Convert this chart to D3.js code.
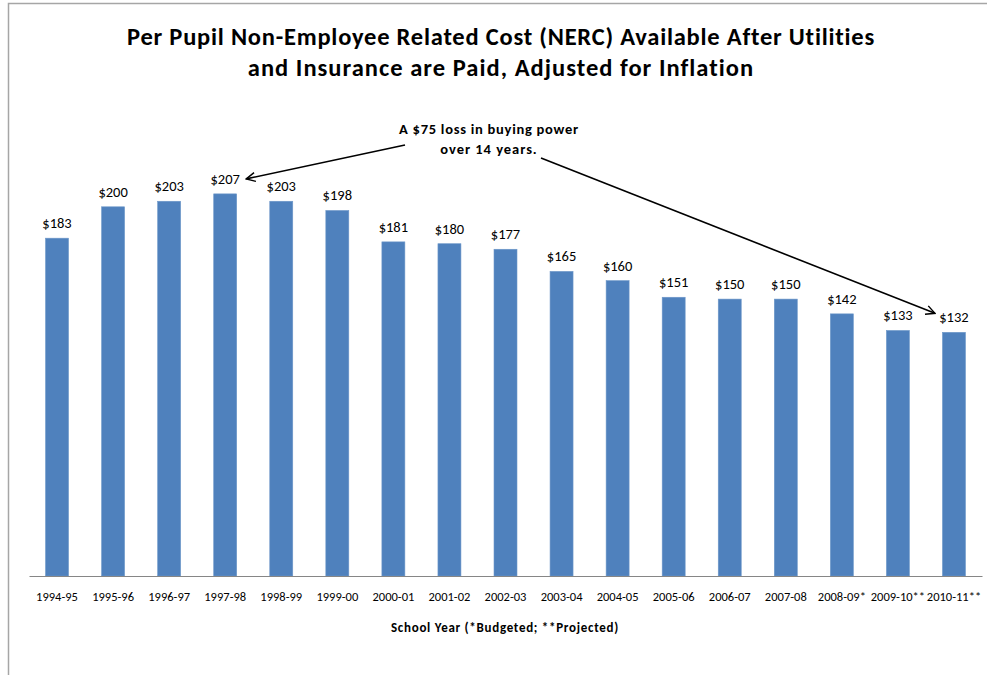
<!DOCTYPE html>
<html>
<head>
<meta charset="utf-8">
<script src="https://cdn.jsdelivr.net/npm/d3@7/dist/d3.min.js"></script>
<style>
  html, body { margin: 0; padding: 0; background: #fff; }
  svg { display: block; font-family: Carlito, Calibri, Lato, "Open Sans", sans-serif; }
</style>
</head>
<body>
<svg id="chart" width="987" height="675"></svg>
<script>
// School years on the category axis
const years = ["1994-95", "1995-96", "1996-97", "1997-98", "1998-99", "1999-00",
  "2000-01", "2001-02", "2002-03", "2003-04", "2004-05", "2005-06", "2006-07",
  "2007-08", "2008-09*", "2009-10**", "2010-11**"];
// Per pupil NERC after utilities and insurance, inflation adjusted (dollars)
const nerc = [183, 200, 203, 207, 203, 198, 181, 180, 177, 165, 160, 151, 150, 150, 142, 133, 132];

const titleLines = ["Per Pupil Non-Employee Related Cost (NERC) Available After Utilities",
  "and Insurance are Paid, Adjusted for Inflation"];
const noteLines = ["A $75 loss in buying power", "over 14 years."];
const xTitle = "School Year (*Budgeted; **Projected)";
const yDomain = [0, 250];

const svg = d3.select("#chart");
const W = 987, H = 675;

// spread glyphs so a text run takes roughly the given width per character
function spread(sel, emWidth) {
  sel.each(function () {
    const t = d3.select(this);
    const n = this.textContent.length;
    const fs = +t.attr("font-size");
    const w = this.getComputedTextLength();
    const target = emWidth * fs * n;
    if (n > 1) t.attr("letter-spacing", ((target - w) / (n - 1)).toFixed(2));
  });
}

// frame around the chart area
svg.append("path")
  .attr("d", `M8.5,${H} V3.5 H${W}`)
  .attr("fill", "none").attr("stroke", "#a6a6a6").attr("stroke-width", 1.5);

const plot = { left: 29, right: 982, bottom: 576 };

const x = d3.scaleBand().domain(years)
  .range([plot.left, plot.right])
  .paddingInner(0.59).paddingOuter(0.295);

const y = d3.scaleLinear().domain(yDomain)
  .range([plot.bottom, plot.bottom - 250 * 1.846]);

const data = years.map((yr, i) => ({ year: yr, value: nerc[i] }));

// bars
svg.append("g").selectAll("rect").data(data).join("rect")
  .attr("x", d => x(d.year))
  .attr("y", d => y(d.value))
  .attr("width", x.bandwidth())
  .attr("height", d => y(0) - y(d.value))
  .attr("fill", "#4f81bd")
  .attr("stroke", "#6d97c9").attr("stroke-width", 0.6);

// value labels
svg.append("g").selectAll("text").data(data).join("text")
  .attr("x", d => x(d.year) + x.bandwidth() / 2)
  .attr("y", d => y(d.value) - 10)
  .attr("text-anchor", "middle")
  .attr("font-size", 14.5)
  .attr("fill", "#000")
  .text(d => "$" + d.value);

// category axis
const xAxis = d3.axisBottom(x).tickSize(0).tickPadding(0);
const gx = svg.append("g").attr("transform", `translate(0,${plot.bottom})`).call(xAxis);
gx.select(".domain").attr("stroke", "#868686").attr("stroke-width", 1.2);
gx.selectAll("text")
  .attr("y", 25).attr("dy", null)
  .attr("font-size", 12.5).attr("fill", "#000")
  .attr("font-family", "Carlito, Calibri, Lato, sans-serif");

svg.append("text")
  .attr("x", 505).attr("y", 632)
  .attr("text-anchor", "middle")
  .attr("font-size", 13).attr("font-weight", "bold")
  .text(xTitle)
  .call(spread, 0.486);

// title
svg.append("g").selectAll("text").data(titleLines).join("text")
  .attr("x", 501)
  .attr("y", (d, i) => 45 + i * 31)
  .attr("text-anchor", "middle")
  .attr("font-size", 24.5).attr("font-weight", "bold")
  .text(d => d)
  .call(spread, 0.448);

// annotation
svg.append("g").selectAll("text").data(noteLines).join("text")
  .attr("x", 489)
  .attr("y", (d, i) => 134 + i * 20)
  .attr("text-anchor", "middle")
  .attr("font-size", 14.5).attr("font-weight", "bold")
  .text(d => d)
  .call(spread, 0.475);

svg.append("defs").append("marker")
  .attr("id", "head").attr("viewBox", "0 0 10 10")
  .attr("refX", 9).attr("refY", 5)
  .attr("markerWidth", 7).attr("markerHeight", 7)
  .attr("orient", "auto-start-reverse")
  .append("path").attr("d", "M1,1 L9,5 L1,9")
  .attr("fill", "none").attr("stroke", "#000").attr("stroke-width", 1.3);

// arrow tips sit just beside the first-peak and final value labels
const peak = data[3], last = data[data.length - 1];
const arrows = [
  { from: [405, 145], to: [x(peak.year) + x.bandwidth() / 2 + 21, y(peak.value) - 15] },
  { from: [541, 158], to: [x(last.year) + x.bandwidth() / 2 - 19, y(last.value) - 19] }
];
svg.append("g").selectAll("line").data(arrows).join("line")
  .attr("x1", d => d.from[0]).attr("y1", d => d.from[1])
  .attr("x2", d => d.to[0]).attr("y2", d => d.to[1])
  .attr("stroke", "#000").attr("stroke-width", 1.6)
  .attr("marker-end", "url(#head)");
</script>
</body>
</html>
